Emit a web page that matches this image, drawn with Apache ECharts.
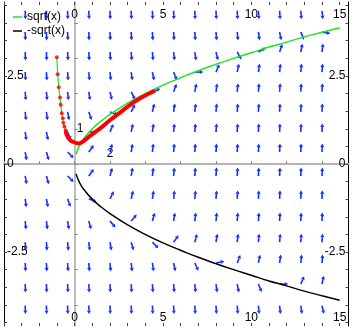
<!DOCTYPE html>
<html><head><meta charset="utf-8">
<script src="https://cdn.jsdelivr.net/npm/echarts@6/dist/echarts.min.js"></script>
<style>html,body{margin:0;padding:0;background:#fff}#c{width:354px;height:332px}</style>
</head><body><div id="c"></div>
<script>
// Direction field grid (dy/dx slopes read at each arrow)
const fieldXs = [-2.8, -1.6, -0.4, 0.8, 2.0, 3.2, 4.4, 5.6, 6.8, 8.0, 9.2, 10.4, 11.6, 12.8, 14.0];
const fieldYs = [4.35, 3.75, 3.18, 2.61, 2.05, 1.48, 0.91, 0.34, -0.34, -0.99, -1.62, -2.22, -2.81, -3.41, -4.02];
const fieldSlopes = [
  [-21.7, -20.5, -19.3, -18.1, -16.9, -15.7, -14.5, -13.3, -12.1, -10.9, -9.7, -8.5, -7.3, -6.1, -4.9],
  [-16.9, -15.7, -14.5, -13.3, -12.1, -10.9, -9.7, -8.5, -7.3, -6.1, -4.9, -3.7, -2.5, -1.3, -0.1],
  [-12.9, -11.7, -10.5, -9.3, -8.1, -6.9, -5.7, -4.5, -3.3, -2.1, -0.9, 0.3, 1.5, 2.7, 3.9],
  [-9.6, -8.4, -7.2, -6.0, -4.8, -3.6, -2.4, -1.2, 0.0, 1.2, 2.4, 3.6, 4.8, 6.0, 7.2],
  [-7.0, -5.8, -4.6, -3.4, -2.2, -1.0, 0.2, 1.4, 2.6, 3.8, 5.0, 6.2, 7.4, 8.6, 9.8],
  [-5.0, -3.8, -2.6, -1.4, -0.2, 1.0, 2.2, 3.4, 4.6, 5.8, 7.0, 8.2, 9.4, 10.6, 11.8],
  [-3.6, -2.4, -1.2, 0.0, 1.2, 2.4, 3.6, 4.8, 6.0, 7.2, 8.4, 9.6, 10.8, 12.0, 13.2],
  [-2.9, -1.7, -0.5, 0.7, 1.9, 3.1, 4.3, 5.5, 6.7, 7.9, 9.1, 10.3, 11.5, 12.7, 13.9],
  [-2.9, -1.7, -0.5, 0.7, 1.9, 3.1, 4.3, 5.5, 6.7, 7.9, 9.1, 10.3, 11.5, 12.7, 13.9],
  [-3.8, -2.6, -1.4, -0.2, 1.0, 2.2, 3.4, 4.6, 5.8, 7.0, 8.2, 9.4, 10.6, 11.8, 13.0],
  [-5.4, -4.2, -3.0, -1.8, -0.6, 0.6, 1.8, 3.0, 4.2, 5.4, 6.6, 7.8, 9.0, 10.2, 11.4],
  [-7.7, -6.5, -5.3, -4.1, -2.9, -1.7, -0.5, 0.7, 1.9, 3.1, 4.3, 5.5, 6.7, 7.9, 9.1],
  [-10.7, -9.5, -8.3, -7.1, -5.9, -4.7, -3.5, -2.3, -1.1, 0.1, 1.3, 2.5, 3.7, 4.9, 6.1],
  [-14.4, -13.2, -12.0, -10.8, -9.6, -8.4, -7.2, -6.0, -4.8, -3.6, -2.4, -1.2, 0.0, 1.2, 2.4],
  [-19.0, -17.8, -16.6, -15.4, -14.2, -13.0, -11.8, -10.6, -9.4, -8.2, -7.0, -5.8, -4.6, -3.4, -2.2]
];
// Curves
const curveXs = [0.08, 0.25, 0.5, 1, 1.5, 2, 3, 4, 5, 6, 7, 8, 9, 10, 11, 12, 13, 14, 15];
const sqrtYs = [0.28, 0.5, 0.71, 1, 1.22, 1.41, 1.73, 2, 2.24, 2.45, 2.65, 2.83, 3, 3.16, 3.32, 3.46, 3.61, 3.74, 3.87];
const negSqrtYs = [-0.28, -0.5, -0.71, -1, -1.22, -1.41, -1.73, -2, -2.24, -2.45, -2.65, -2.83, -3, -3.16, -3.32, -3.46, -3.61, -3.74, -3.87];
// Trajectory
const trajDotsX = [-1.01, -0.96, -0.90, -0.83, -0.79, -0.73, -0.67, -0.64, -0.58, -0.50];
const trajDotsY = [3.03, 2.55, 2.18, 1.89, 1.68, 1.44, 1.30, 1.17, 1.06, 0.95];
const trajThickX = [-0.50, -0.45, -0.26, 0.0, 0.21, 0.5, 0.87, 1.44, 2.01, 2.57, 3.14, 3.71, 4.55];
const trajThickY = [0.95, 0.82, 0.68, 0.61, 0.585, 0.65, 0.80, 1.01, 1.25, 1.46, 1.68, 1.87, 2.08];
// Ticks and labels
const frameXTicks = [-4,-3,-2,-1,0,1,2,3,4,5,6,7,8,9,10,11,12,13,14,15];
const frameXLabels = [0, 5, 10, 15];
const frameYTicks = [-4.5,-4,-3.5,-3,-2.5,-2,-1.5,-1,-0.5,0,0.5,1,1.5,2,2.5,3,3.5,4,4.5];
const frameYLabels = [-2.5, 0, 2.5];
const innerXTicks = [-4,-2,0,2,4,6,8,10,12,14];
const innerXLabels = [2];
const innerYTicks = [-4,-3,-2,-1,0,1,2,3,4];
const innerYLabels = [1];

const FONT = 'Liberation Sans, Arial, sans-serif';
const zip = (xs, ys) => xs.map((x, i) => [x, ys[i]]);
const fieldData = [];
fieldYs.forEach((y, r) => fieldXs.forEach((x, c) => fieldData.push([x, y, fieldSlopes[r][c]])));

const X_MIN = -4, X_MAX = 15.5, Y_MIN = -4.6, Y_MAX = 4.6;
const G = {left: 4, right: 5.5, top: 2, bottom: 6, w: 354, h: 332};
const plotW = G.w - G.left - G.right, plotH = G.h - G.top - G.bottom;
// inner axes pass through the origin: offsets derived from the scale
const innerXOffset = -plotH * (0 - Y_MIN) / (Y_MAX - Y_MIN);
const innerYOffset = -plotW * (0 - X_MIN) / (X_MAX - X_MIN);

const chart = echarts.init(document.getElementById('c'), null, {renderer: 'canvas'});
const lbl = (extra) => Object.assign({fontSize: 12, color: '#000', fontFamily: FONT}, extra);
const XR = {type: 'value', min: X_MIN, max: X_MAX, splitLine: {show: false}};
const YR = {type: 'value', min: Y_MIN, max: Y_MAX, splitLine: {show: false}};
const ARROW = '#1030ff';

chart.setOption({
  animation: false,
  backgroundColor: '#fff',
  grid: {left: G.left, right: G.right, top: G.top, bottom: G.bottom, containLabel: false, outerBoundsMode: 'none'},
  legend: {
    data: ['sqrt(x)', '-sqrt(x)'], orient: 'vertical', left: 13, top: 10, icon: 'rect',
    itemWidth: 9, itemHeight: 1.5, itemGap: 0, padding: 0, selectedMode: false,
    textStyle: {fontSize: 12, lineHeight: 14, color: '#000', fontFamily: FONT}
  },
  xAxis: [
    Object.assign({}, XR, {position: 'bottom',
      axisLine: {show: false, onZero: false},
      axisTick: {inside: true, length: 3, customValues: frameXTicks, lineStyle: {color: '#444'}},
      axisLabel: lbl({inside: true, margin: 2, customValues: frameXLabels})}),
    Object.assign({}, XR, {position: 'top',
      axisLine: {show: false, onZero: false},
      axisTick: {inside: true, length: 3, customValues: frameXTicks, lineStyle: {color: '#444'}},
      axisLabel: lbl({inside: true, margin: 7, customValues: frameXLabels})}),
    Object.assign({}, XR, {position: 'bottom', offset: innerXOffset,
      axisLine: {show: true, onZero: false, lineStyle: {color: '#b4b4b4', width: 2}},
      axisTick: {inside: true, length: 3, customValues: innerXTicks, lineStyle: {color: '#888'}},
      axisLabel: lbl({inside: true, margin: 4, customValues: innerXLabels})})
  ],
  yAxis: [
    Object.assign({}, YR, {position: 'left',
      axisLine: {show: true, onZero: false, lineStyle: {color: '#000', width: 1}},
      axisTick: {inside: true, length: 3, customValues: frameYTicks, lineStyle: {color: '#444'}},
      axisLabel: lbl({inside: true, margin: 3, customValues: frameYLabels})}),
    Object.assign({}, YR, {position: 'right',
      axisLine: {show: true, onZero: false, lineStyle: {color: '#000', width: 1}},
      axisTick: {inside: true, length: 3, customValues: frameYTicks, lineStyle: {color: '#444'}},
      axisLabel: lbl({inside: true, margin: 3, customValues: frameYLabels})}),
    Object.assign({}, YR, {position: 'left', offset: innerYOffset,
      axisLine: {show: true, onZero: false, lineStyle: {color: '#a8a8a8', width: 1.5}},
      axisTick: {inside: true, length: 3, customValues: innerYTicks, lineStyle: {color: '#888'}},
      axisLabel: lbl({inside: true, margin: 2, customValues: innerYLabels})})
  ],
  series: [
    {
      type: 'custom', name: 'field', xAxisIndex: 0, yAxisIndex: 0, clip: true, z: 1,
      data: fieldData,
      renderItem: function (params, api) {
        const p = api.coord([api.value(0), api.value(1)]);
        const s = api.size([1, 1]);
        const f = api.value(2);
        let dx = s[0], dy = -s[1] * f;
        const n = Math.hypot(dx, dy); dx /= n; dy /= n;
        const L = 8.5, hl = 3.5, hw = 2;
        const tip = [p[0] + dx * L, p[1] + dy * L];
        const b = [tip[0] - dx * hl, tip[1] - dy * hl];
        const nx = -dy, ny = dx;
        return {type: 'group', children: [
          {type: 'line', shape: {x1: p[0], y1: p[1], x2: b[0], y2: b[1]}, style: {stroke: ARROW, lineWidth: 1.6}},
          {type: 'polygon', shape: {points: [tip, [b[0] + nx * hw, b[1] + ny * hw], [b[0] - nx * hw, b[1] - ny * hw]]}, style: {fill: ARROW}}
        ]};
      }
    },
    {type: 'line', name: 'sqrt(x)', data: zip(curveXs, sqrtYs), smooth: true, symbol: 'none',
      lineStyle: {color: '#1ee61e', width: 1.5}, itemStyle: {color: '#1ee61e'}, z: 3},
    {type: 'line', name: '-sqrt(x)', data: zip(curveXs, negSqrtYs), smooth: true, symbol: 'none',
      lineStyle: {color: '#000', width: 1.5}, itemStyle: {color: '#000'}, z: 3},
    {type: 'line', name: 'trajLine', data: zip(trajDotsX, trajDotsY).concat(zip(trajThickX, trajThickY).slice(1)), smooth: true, symbol: 'none',
      lineStyle: {color: '#1ee61e', width: 1.2}, z: 4},
    {type: 'line', name: 'trajThick', data: zip(trajThickX, trajThickY), smooth: true, symbol: 'none',
      lineStyle: {color: '#ff0000', width: 4}, z: 5},
    {type: 'scatter', name: 'trajDots', data: zip(trajDotsX, trajDotsY), symbol: 'circle', symbolSize: 4,
      itemStyle: {color: '#ff0000'}, z: 6}
  ]
});
</script></body></html>
